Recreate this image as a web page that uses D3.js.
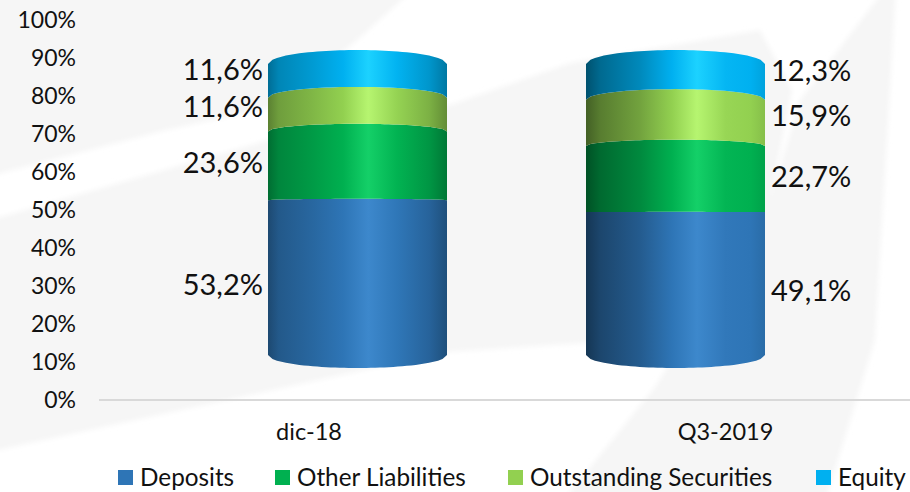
<!DOCTYPE html>
<html><head><meta charset="utf-8">
<script src="https://cdn.jsdelivr.net/npm/d3@7"></script>
<style>html,body{margin:0;padding:0;background:#fff}svg{display:block}text{font-family:Lato,"Open Sans",sans-serif;fill:#111}</style>
</head><body><svg id="c" width="910" height="492"></svg>
<script>
const categories = ["dic-18", "Q3-2019"];
const seriesNames = ["Deposits", "Other Liabilities", "Outstanding Securities", "Equity"];
const deposits = [53.2, 49.1];
const otherLiabilities = [23.6, 22.7];
const outstandingSecurities = [11.6, 15.9];
const equity = [11.6, 12.3];
const yTicks = [0, 10, 20, 30, 40, 50, 60, 70, 80, 90, 100];

const seriesValues = [deposits, otherLiabilities, outstandingSecurities, equity];
const baseColors = ["#2E75B6", "#00B050", "#92D050", "#00B0F0"];
const lightColors = ["#3D88CC", "#14D068", "#B6F570", "#1CD2FF"];
const shadeStops = [
  [[0, .62], [.06, .76], [.25, .88], [.42, 1.0], [.56, 1.6], [.72, 1.05], [.9, .85], [1, .68]],
  [[0, .46], [.08, .6], [.3, .78], [.48, 1.0], [.62, 1.6], [.78, 1.1], [.92, 1.0], [1, .92]]
];

const svg = d3.select("#c"), defs = svg.append("defs");
defs.append("filter").attr("id", "soft").attr("x", "-5%").attr("y", "-5%").attr("width", "110%").attr("height", "110%")
  .append("feGaussianBlur").attr("stdDeviation", 2.5);
const bg = svg.append("g").attr("fill", "#f6f6f6").attr("filter", "url(#soft)");
[
 [[-10,-10],[413,-10],[354,43],[268,108],[167,130],[-10,176]],
 [[-10,220],[268,140],[450,105],[570,63],[760,30],[792,90],[770,200],[690,330],[586,343],[447,352],[-10,452]],
 [[562,502],[655,387],[770,200],[800,100],[884,-10],[896,-10],[875,340],[825,502]]
].forEach(p => bg.append("path").attr("d", d3.line()(p) + "Z"));

const axisY = d3.scaleLinear().domain([0, 100]).range([400, 20]);
const barEdge = d3.scaleLinear().domain([0, 100]).range([355, 64]);
const barSag = d3.scaleLinear().domain([0, 100]).range([13, -14]);
const barX = d3.scalePoint().domain(categories).range([357.5, 675.5]);
const labelX = d3.scalePoint().domain(categories).range([308.5, 725]);
const barW = 179;

svg.append("line").attr("x1", 99).attr("x2", 910).attr("y1", 400).attr("y2", 400)
  .attr("stroke", "#d9d9d9").attr("stroke-width", 2);

const ax = svg.append("g").attr("transform", "translate(76,0)")
  .call(d3.axisLeft(axisY).tickValues(yTicks).tickFormat(d => d + "%").tickSize(0).tickPadding(0));
ax.select(".domain").remove();
ax.selectAll("text").attr("font-size", 23).style("font-family", "Lato").attr("fill", "#111");

const cat = svg.append("g").attr("transform", "translate(0,434.5)")
  .call(d3.axisBottom(labelX).tickSize(0).tickPadding(0));
cat.select(".domain").remove();
cat.selectAll("text").attr("font-size", 23.5).attr("dy", "0").attr("y", 0).attr("dominant-baseline", "middle").attr("fill", "#111");

function shade(si, k) {
  if (k > 1) return d3.interpolateRgb(baseColors[si], lightColors[si])(Math.min(1, (k - 1) / .6));
  const c = d3.rgb(baseColors[si]);
  return d3.rgb(c.r * k, c.g * k, c.b * k).formatHex();
}
function arc(v, x0, reverse) {
  const pts = d3.range(0, 41).map(i => {
    const t = i / 40;
    return [x0 + barW * t, barEdge(v) + barSag(v) * Math.sqrt(Math.max(0, 1 - (2 * t - 1) ** 2))];
  });
  return reverse ? pts.reverse() : pts;
}
const fmt = v => v.toFixed(1).replace(".", ",") + "%";

categories.forEach((c, ci) => {
  const x0 = barX(c) - barW / 2;
  let cum = 0;
  seriesValues.forEach((vals, si) => {
    const id = `g${ci}${si}`;
    const g = defs.append("linearGradient").attr("id", id);
    shadeStops[ci].forEach(([o, k]) => g.append("stop").attr("offset", o).attr("stop-color", shade(si, k)));
    const lo = cum, hi = cum + vals[ci];
    const pts = arc(hi, x0, false).concat(arc(lo, x0, true));
    svg.append("path").attr("d", d3.line()(pts) + "Z").attr("fill", `url(#${id})`);
    const mid = (lo + hi) / 2;
    svg.append("text").attr("x", ci === 0 ? x0 - 5 : x0 + barW + 6)
      .attr("y", barEdge(mid) + barSag(mid) + 4)
      .attr("text-anchor", ci === 0 ? "end" : "start")
      .attr("dominant-baseline", "middle").attr("font-size", 29).text(fmt(vals[ci]));
    cum = hi;
  });
});

const legX = d3.scaleOrdinal().domain(seriesNames).range([118, 275, 508, 816]);
const leg = svg.append("g");
seriesNames.forEach((n, i) => {
  leg.append("rect").attr("x", legX(n)).attr("y", 470).attr("width", 15).attr("height", 15).attr("fill", baseColors[i]);
  leg.append("text").attr("x", legX(n) + 22).attr("y", 479.5).attr("dominant-baseline", "middle").attr("font-size", 24.3).text(n);
});
</script></body></html>
